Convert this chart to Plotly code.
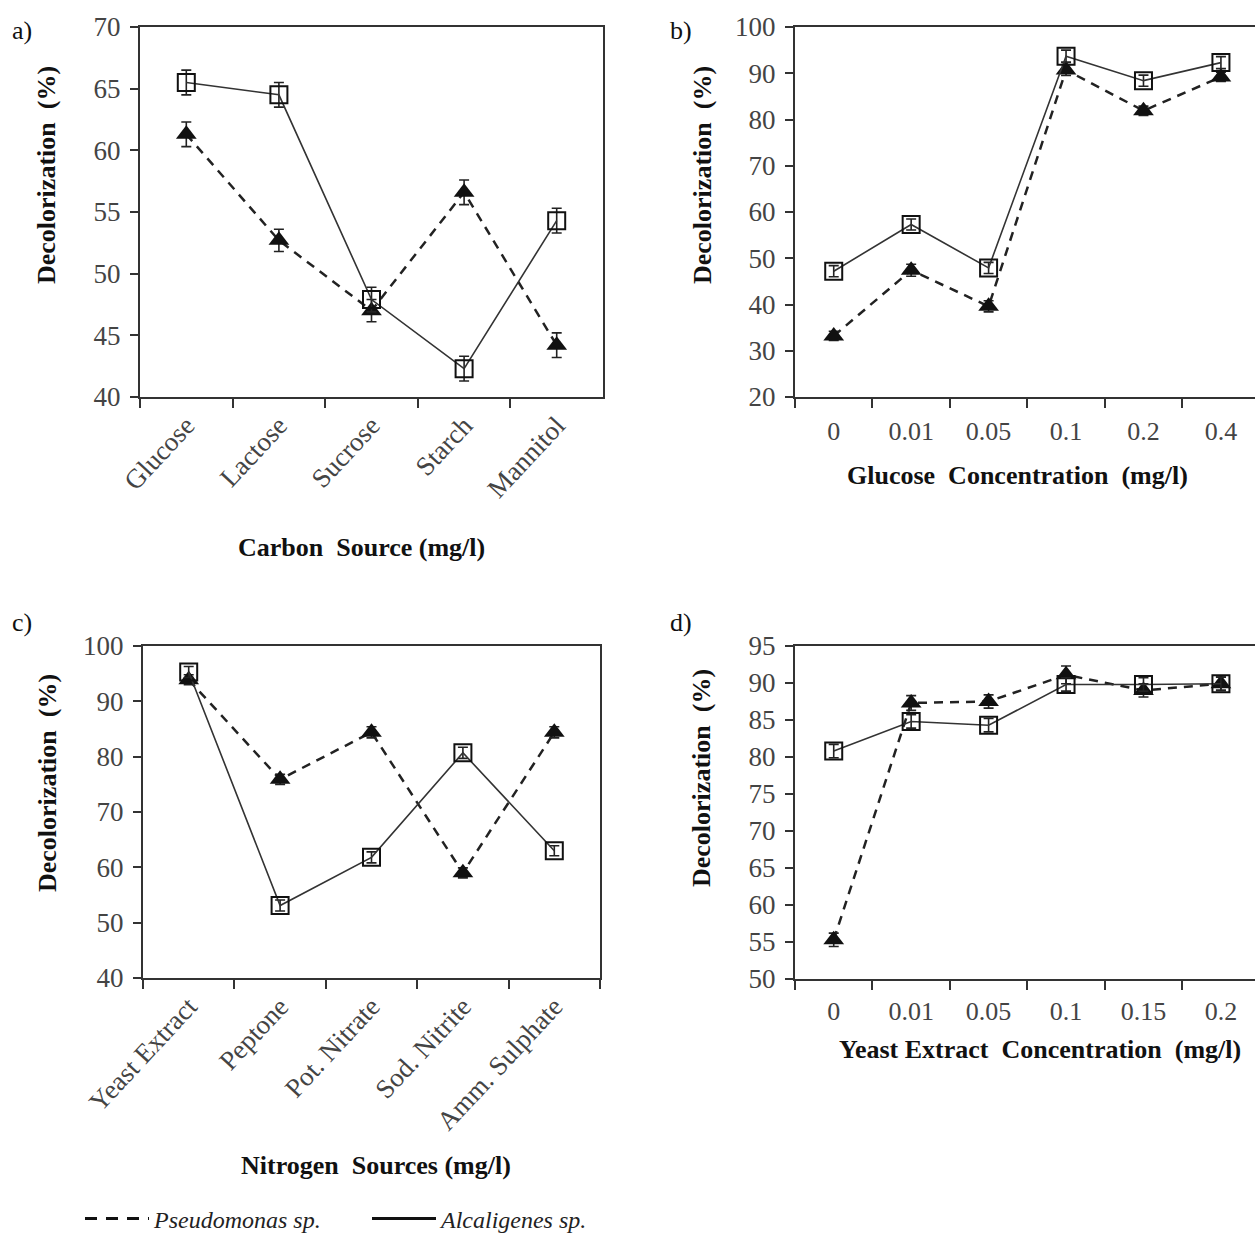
import plotly.graph_objects as go

# ---------------- data ----------------
carbon_sources = ["Glucose", "Lactose", "Sucrose", "Starch", "Mannitol"]
carbon_alc = [65.5, 64.5, 47.9, 42.3, 54.3]
carbon_alc_err = [1.0, 1.0, 1.0, 1.0, 1.0]
carbon_pse = [61.3, 52.7, 47.0, 56.6, 44.2]
carbon_pse_err = [1.0, 0.9, 0.9, 1.0, 1.0]

glucose_conc = ["0", "0.01", "0.05", "0.1", "0.2", "0.4"]
glucose_alc = [47.2, 57.3, 47.9, 93.7, 88.4, 92.3]
glucose_alc_err = [1.2, 1.2, 1.2, 1.3, 1.2, 1.3]
glucose_pse = [33.2, 47.4, 39.6, 90.7, 81.9, 89.2]
glucose_pse_err = [1.0, 1.3, 1.2, 1.2, 1.0, 1.0]

nitrogen_sources = ["Yeast Extract", "Peptone", "Pot. Nitrate", "Sod. Nitrite", "Amm. Sulphate"]
nitrogen_alc = [95.3, 53.1, 61.8, 80.7, 63.0]
nitrogen_alc_err = [1.0, 1.0, 1.0, 1.0, 0.9]
nitrogen_pse = [93.9, 75.9, 84.4, 59.0, 84.4]
nitrogen_pse_err = [0.9, 0.9, 1.0, 0.9, 1.0]

yeast_conc = ["0", "0.01", "0.05", "0.1", "0.15", "0.2"]
yeast_alc = [80.8, 84.8, 84.3, 89.8, 89.8, 89.9]
yeast_alc_err = [0.9, 0.9, 0.9, 0.9, 0.9, 0.9]
yeast_pse = [55.3, 87.3, 87.5, 91.1, 89.0, 89.9]
yeast_pse_err = [0.9, 1.0, 0.9, 1.2, 0.9, 0.9]

series_names = ["Pseudomonas sp.", "Alcaligenes sp."]

# ---------------- layout helpers ----------------
W, H = 1255, 1234


def px(x):
    return x / W


def py(y):
    return 1 - y / H


SERIF = "Liberation Serif, Times New Roman, serif"
AX = "#333333"
TICKTXT = "#444444"

fig = go.Figure()

panels = [
    dict(xa="x", ya="y", cats=carbon_sources, alc=carbon_alc, alc_e=carbon_alc_err,
         pse=carbon_pse, pse_e=carbon_pse_err),
    dict(xa="x2", ya="y2", cats=glucose_conc, alc=glucose_alc, alc_e=glucose_alc_err,
         pse=glucose_pse, pse_e=glucose_pse_err),
    dict(xa="x3", ya="y3", cats=nitrogen_sources, alc=nitrogen_alc, alc_e=nitrogen_alc_err,
         pse=nitrogen_pse, pse_e=nitrogen_pse_err),
    dict(xa="x4", ya="y4", cats=yeast_conc, alc=yeast_alc, alc_e=yeast_alc_err,
         pse=yeast_pse, pse_e=yeast_pse_err),
]

for p in panels:
    fig.add_trace(go.Scatter(
        x=p["cats"], y=p["pse"], xaxis=p["xa"], yaxis=p["ya"],
        mode="lines+markers", showlegend=False, name=series_names[0],
        line=dict(color="#222222", width=2.5, dash="9px,7px"),
        marker=dict(symbol="triangle-up", size=18, color="#111111"),
        error_y=dict(type="data", array=p["pse_e"], visible=True,
                     color="#222222", thickness=1.6, width=5),
    ))
    fig.add_trace(go.Scatter(
        x=p["cats"], y=p["alc"], xaxis=p["xa"], yaxis=p["ya"],
        mode="lines+markers", showlegend=False, name=series_names[1],
        line=dict(color="#333333", width=1.6),
        marker=dict(symbol="square-open", size=17, color="#111111",
                    line=dict(width=2, color="#111111")),
        error_y=dict(type="data", array=p["alc_e"], visible=True,
                     color="#222222", thickness=1.6, width=5),
    ))

# legend-only entries (lines only)
fig.add_trace(go.Scatter(x=[None], y=[None], mode="lines", name="<i>" + series_names[0] + "</i>",
                         line=dict(color="#111111", width=3, dash="12px,9px"), showlegend=True))
fig.add_trace(go.Scatter(x=[None], y=[None], mode="lines", name="<i>" + series_names[1] + "</i>",
                         line=dict(color="#111111", width=3), showlegend=True))


def xaxis_cfg(dom, rng, angle, size=26, mirror=True):
    return dict(
        domain=dom, type="category", range=rng, tickson="boundaries",
        ticks="outside", ticklen=9, tickwidth=2, tickcolor=AX,
        showline=True, linecolor=AX, linewidth=2, mirror=mirror,
        tickangle=angle, tickfont=dict(family=SERIF, size=size, color=TICKTXT),
        showgrid=False, zeroline=False, fixedrange=True, automargin=False,
    )


def yaxis_cfg(dom, rng, dtick, mirror=True):
    return dict(
        domain=dom, range=rng, dtick=dtick, tick0=0,
        ticks="outside", ticklen=8, tickwidth=2, tickcolor=AX,
        showline=True, linecolor=AX, linewidth=2, mirror=mirror,
        tickfont=dict(family=SERIF, size=27, color=TICKTXT), ticklabelstandoff=4,
        showgrid=False, zeroline=False, fixedrange=True, automargin=False,
    )


fig.update_layout(
    width=W, height=H, margin=dict(l=0, r=0, t=0, b=0, pad=0, autoexpand=False),
    paper_bgcolor="white", plot_bgcolor="white",
    font=dict(family=SERIF, color="#222222"),
    xaxis=dict(xaxis_cfg([px(140), px(603)], [-0.5, 4.5], -47, size=27), anchor="y"),
    yaxis=dict(yaxis_cfg([py(397), py(27)], [40, 70], 5), anchor="x"),
    xaxis2=dict(xaxis_cfg([px(795), 1.0], [-0.5, 5.44], 0), anchor="y2", ticklabelstandoff=10),
    yaxis2=dict(yaxis_cfg([py(397), py(27)], [20, 100], 10, mirror=False), anchor="x2"),
    xaxis3=dict(xaxis_cfg([px(143), px(600)], [-0.5, 4.5], -47, size=27), anchor="y3"),
    yaxis3=dict(yaxis_cfg([py(978), py(646)], [40, 100], 10), anchor="x3"),
    xaxis4=dict(xaxis_cfg([px(795), 1.0], [-0.5, 5.44], 0), anchor="y4", ticklabelstandoff=8),
    yaxis4=dict(yaxis_cfg([py(979), py(646)], [50, 95], 5, mirror=False), anchor="x4"),
    legend=dict(orientation="h", x=px(80), y=-0.006, xanchor="left", yanchor="bottom",
                font=dict(family=SERIF, size=24, color="#222222"),
                itemwidth=64, entrywidth=208, entrywidthmode="pixels",
                bgcolor="rgba(0,0,0,0)", traceorder="normal", valign="middle"),
)

NB = "\u00a0"
annots = [
    # panel letters
    dict(text="a)", x=px(10), y=py(31), xanchor="left", size=26, bold=False),
    dict(text="b)", x=px(668), y=py(31), xanchor="left", size=26, bold=False),
    dict(text="c)", x=px(10), y=py(622), xanchor="left", size=26, bold=False),
    dict(text="d)", x=px(668), y=py(622), xanchor="left", size=26, bold=False),
    # x titles
    dict(text="Carbon" + NB + " Source (mg/l)", x=px(361), y=py(548), xanchor="center", size=26, bold=True),
    dict(text="Glucose" + NB + " Concentration" + NB + " (mg/l)", x=px(1017), y=py(476), xanchor="center", size=26, bold=True),
    dict(text="Nitrogen" + NB + " Sources (mg/l)", x=px(376), y=py(1165), xanchor="center", size=26, bold=True),
    dict(text="Yeast Extract" + NB + " Concentration" + NB + " (mg/l)", x=px(1040), y=py(1049), xanchor="center", size=26, bold=True),
]
for a in annots:
    txt = "<b>" + a["text"] + "</b>" if a["bold"] else a["text"]
    fig.add_annotation(text=txt, x=a["x"], y=a["y"], xref="paper", yref="paper",
                       xanchor=a["xanchor"], yanchor="middle", showarrow=False,
                       font=dict(family=SERIF, size=a["size"], color="#111111"))

ytitle = "<b>Decolorization" + NB + " (%)</b>"
for (x, y) in [(47, 175), (703, 175), (47, 783), (701, 778)]:
    fig.add_annotation(text=ytitle, x=px(x), y=py(y), xref="paper", yref="paper",
                       xanchor="center", yanchor="middle", showarrow=False, textangle=-90,
                       font=dict(family=SERIF, size=26, color="#111111"))

fig.write_html("out.html")
